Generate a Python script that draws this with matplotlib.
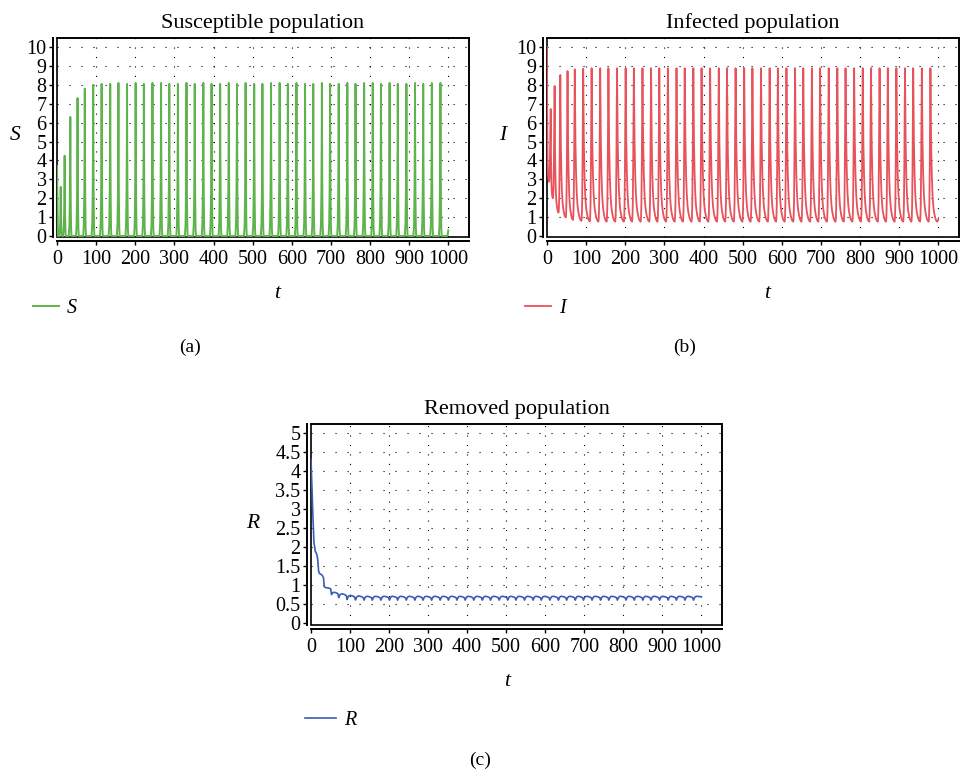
import numpy as np
import matplotlib
matplotlib.use("Agg")
import matplotlib.pyplot as plt
from matplotlib.ticker import FuncFormatter

# ---------------- data ----------------
# pulse (spike) times, shared by the three populations
pulse_t = [9.5, 19.5, 34, 52.5, 71, 92.5,
           114, 136, 157, 179, 201, 222, 244, 266, 287, 309, 331, 352, 374, 395,
           417, 439, 460, 482, 504, 525, 547, 569, 590, 612, 634, 655, 677, 698,
           720, 742, 763, 785, 807, 828, 850, 871, 893, 915, 936, 958, 980]

S_start = 3.7
S_peak = [2.6, 4.25, 6.3, 7.3, 7.8, 8.0,
          8.05, 8.05, 8.1, 8.05, 8.1, 8.05, 8.1, 8.1, 8.05, 8.05, 8.1, 8.05, 8.1, 8.05,
          8.05, 8.1, 8.05, 8.1, 8.05, 8.05, 8.1, 8.1, 8.05, 8.1, 8.05, 8.05, 8.1, 8.05,
          8.05, 8.1, 8.05, 8.1, 8.1, 8.05, 8.1, 8.05, 8.05, 8.1, 8.05, 8.1, 8.1]
S_end = 0.3

I_start = 10.0
I_peak = [6.72, 7.94, 8.52, 8.73, 8.82, 8.85] + [8.88] * 41
I_trough = [2.87, 2.0, 1.24, 0.99, 0.85, 0.80, 0.77] + [0.76] * 40
I_end_trough = 0.76
I_end = 0.86

R_init_t = [0, 4.3, 7.5]
R_init = [4.3, 3.0, 2.12]
R_pre = [2.05, 1.64, 1.19, 0.9, 0.77, 0.72, 0.68] + [0.665] * 40
R_cusp = [2.0, 1.37, 0.96, 0.75, 0.67, 0.62, 0.61] + [0.605] * 40
R_top = [1.86, 1.29, 0.93, 0.81, 0.77, 0.73, 0.715] + [0.705] * 40
R_end = 0.69

# normalised shapes of one cycle
I_decay_u = [0, .05, .1, .2, .3, .4, .5, .6, .7, .8, .9, 1]
I_decay_v = [1, .72, .52, .30, .18, .11, .07, .045, .025, .012, .004, 0]
I_rise_u = [0, .2, .4, .6, .8, 1]
I_rise_v = [0, .03, .12, .35, .7, 1]
S_rise_u = [0, .4, .7, .9, 1]
S_rise_v = [0, .08, .3, .65, 1]
S_fall_u = [0, .15, .4, .7, 1]
S_fall_v = [1, .6, .25, .06, 0]
R_up_u = [0, .3, .6, 1]
R_up_v = [0, .6, .9, 1]
R_down_u = [0, .4, .75, 1]
R_down_v = [0, .2, .55, 1]

title_fs = 16
tick_fs = 14.5
label_fs = 15.5
FONT = "Liberation Serif"

# ---------------- build the curves ----------------
I_RISE = 4.5
S_RISE, S_FALL = 4.0, 3.0
R_DROP = 2.0
R_UP = 0.4          # fraction of a cycle spent rising after the cusp
T_END = 1000.0

# I
tI, vI = [], []
prev_t, prev_v = 0.0, I_start
for k, p in enumerate(pulse_t):
    tr_t = p - I_RISE
    for u, v in zip(I_decay_u, I_decay_v):
        tI.append(prev_t + u * (tr_t - prev_t)); vI.append(I_trough[k] + v * (prev_v - I_trough[k]))
    for u, v in zip(I_rise_u[1:], I_rise_v[1:]):
        tI.append(tr_t + u * I_RISE); vI.append(I_trough[k] + v * (I_peak[k] - I_trough[k]))
    prev_t, prev_v = p, I_peak[k]
tr_t = T_END - 2.5
for u, v in zip(I_decay_u[1:], I_decay_v[1:]):
    tI.append(prev_t + u * (tr_t - prev_t)); vI.append(I_end_trough + v * (prev_v - I_end_trough))
tI.append(T_END); vI.append(I_end)

# S
tS, vS = [0.0, 2.5], [S_start, 0.0]
for k, p in enumerate(pulse_t):
    for u, v in zip(S_rise_u, S_rise_v):
        tS.append(p - S_RISE + u * S_RISE); vS.append(v * S_peak[k])
    for u, v in zip(S_fall_u[1:], S_fall_v[1:]):
        tS.append(p + u * S_FALL); vS.append(v * S_peak[k])
tS += [T_END - 3.0, T_END - 1.5, T_END]
vS += [0.0, 0.05, S_end]

# R
tR, vR = list(R_init_t), list(R_init)
tR.append(pulse_t[0] - 0.8); vR.append(R_pre[0])
for k, p in enumerate(pulse_t):
    tR.append(p); vR.append(R_cusp[k])
    last = k + 1 >= len(pulse_t)
    nxt_pre_t = (T_END if last else pulse_t[k + 1] - R_DROP)
    nxt_pre_v = (R_end if last else R_pre[k + 1])
    span = nxt_pre_t - p
    t_top = p + R_UP * span
    for u, v in zip(R_up_u[1:], R_up_v[1:]):
        tR.append(p + u * (t_top - p)); vR.append(R_cusp[k] + v * (R_top[k] - R_cusp[k]))
    for u, v in zip(R_down_u[1:], R_down_v[1:]):
        tR.append(t_top + u * (nxt_pre_t - t_top)); vR.append(R_top[k] + v * (nxt_pre_v - R_top[k]))

tI, vI = np.array(tI), np.array(vI)
tS, vS = np.array(tS), np.array(vS)
tR, vR = np.array(tR), np.array(vR)

# ---------------- figure ----------------
W, H = 960, 770
fig = plt.figure(figsize=(W / 100, H / 100), dpi=100)
plt.rcParams["font.family"] = [FONT, "DejaVu Serif"]


def fpos(x0, y0, x1, y1):
    return [x0 / W, 1 - y1 / H, (x1 - x0) / W, (y1 - y0) / H]


def style_axes(ax, ymax, yvals):
    ax.set_xlim(0, 1053)
    ax.set_ylim(-ymax * 0.005, ymax)
    ax.set_xticks(np.arange(0, 1001, 100))
    ax.set_yticks(yvals)
    ax.yaxis.set_major_formatter(FuncFormatter(lambda v, p: "%g" % v))
    ax.tick_params(axis="both", direction="out", length=3, width=1.0,
                   labelsize=tick_fs, pad=1.5)
    ax.tick_params(axis="x", pad=3.5)
    for s in ["left", "bottom"]:
        ax.spines[s].set_position(("outward", 3))
        ax.spines[s].set_linewidth(1.4)
    for s in ["top", "right"]:
        ax.spines[s].set_linewidth(1.2)
    ax.patch.set_edgecolor("black")
    ax.patch.set_linewidth(1.2)
    for v in np.arange(100, 1001, 100):
        ax.axvline(v, color="black", lw=0.8, ls=(0, (1, 7.5)), zorder=0.5)
    for v in yvals[1:]:
        ax.axhline(v, color="black", lw=0.8, ls=(0, (1, 9.8)), zorder=0.5)
    for lab in ax.get_xticklabels() + ax.get_yticklabels():
        lab.set_fontfamily(FONT)


ital = {"family": FONT, "style": "italic", "size": label_fs}
leg_prop = {"family": FONT, "style": "italic", "size": 14.5}

# (a) Susceptible
axA = fig.add_axes(fpos(57, 38, 469, 237))
lineS, = axA.plot(tS, vS, color="#5fb34c", lw=1.4, label="S")
style_axes(axA, 10.48, list(range(0, 11)))
axA.set_title("Susceptible population", fontsize=title_fs, fontfamily=FONT, pad=7)
axA.set_xlabel("t", fontdict=ital)
axA.set_ylabel("S", fontdict=ital, rotation=0)
axA.xaxis.set_label_coords(220 / 412, -47 / 199)
axA.yaxis.set_label_coords(-42 / 412, 92 / 199)
axA.legend(handles=[lineS], labels=["S"], loc="center left",
           bbox_to_anchor=(33 / W, 1 - 308 / H), bbox_transform=fig.transFigure,
           frameon=False, borderpad=0, borderaxespad=0, handlelength=1.3,
           handletextpad=0.4, prop=leg_prop)

# (b) Infected
axB = fig.add_axes(fpos(547, 38, 959, 237))
lineI, = axB.plot(tI, vI, color="#e8525a", lw=1.3, label="I")
style_axes(axB, 10.48, list(range(0, 11)))
axB.set_title("Infected population", fontsize=title_fs, fontfamily=FONT, pad=7)
axB.set_xlabel("t", fontdict=ital)
axB.set_ylabel("I", fontdict=ital, rotation=0)
axB.xaxis.set_label_coords(220 / 412, -47 / 199)
axB.yaxis.set_label_coords(-44 / 412, 92 / 199)
axB.legend(handles=[lineI], labels=["I"], loc="center left",
           bbox_to_anchor=(525 / W, 1 - 308 / H), bbox_transform=fig.transFigure,
           frameon=False, borderpad=0, borderaxespad=0, handlelength=1.3,
           handletextpad=0.4, prop=leg_prop)

# (c) Removed
axC = fig.add_axes(fpos(311, 424, 722, 625))
lineR, = axC.plot(tR, vR, color="#3a5cb5", lw=1.2, label="R")
style_axes(axC, 5.24, list(np.arange(0, 5.01, 0.5)))
axC.set_ylim(-0.05, 5.24)
axC.set_title("Removed population", fontsize=title_fs, fontfamily=FONT, pad=7)
axC.set_xlabel("t", fontdict=ital)
axC.set_ylabel("R", fontdict=ital, rotation=0)
axC.xaxis.set_label_coords(196 / 411, -47 / 201)
axC.yaxis.set_label_coords(-58 / 411, 92 / 201)
axC.legend(handles=[lineR], labels=["R"], loc="center left",
           bbox_to_anchor=(305 / W, 1 - 720 / H), bbox_transform=fig.transFigure,
           frameon=False, borderpad=0, borderaxespad=0, handlelength=1.55,
           handletextpad=0.4, prop=leg_prop)

fig.text(190 / W, 1 - 347 / H, "(a)", ha="center", va="center", fontsize=14, fontfamily=FONT)
fig.text(685 / W, 1 - 347 / H, "(b)", ha="center", va="center", fontsize=14, fontfamily=FONT)
fig.text(480 / W, 1 - 760 / H, "(c)", ha="center", va="center", fontsize=14, fontfamily=FONT)

fig.savefig("out.png", dpi=100)
